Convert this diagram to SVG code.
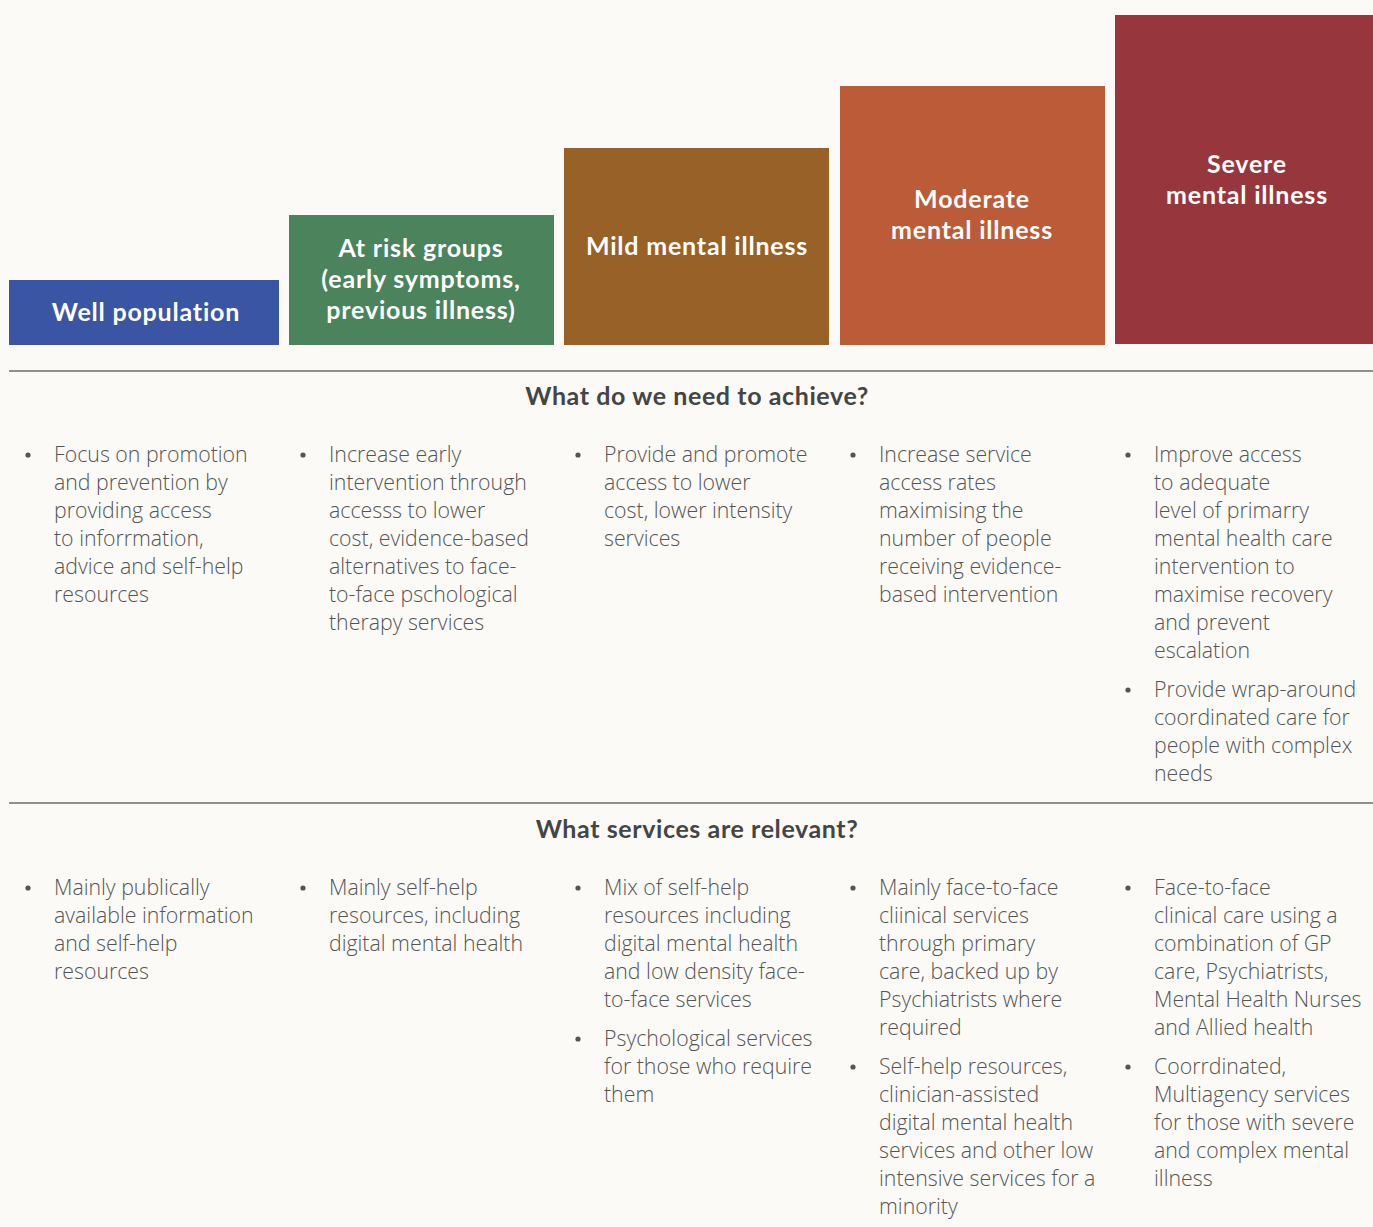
<svg xmlns="http://www.w3.org/2000/svg" width="1373" height="1227" viewBox="0 0 1373 1227">
<style>
.bg{fill:#fbfaf6}
.title{font-family:Lato,"Open Sans",sans-serif;font-weight:700;font-size:25px;letter-spacing:0.8px;fill:#ffffff;text-anchor:middle}
.head{font-family:Lato,"Open Sans",sans-serif;font-weight:700;font-size:25px;letter-spacing:0.6px;fill:#454545;text-anchor:middle}
.body{font-family:"Open Sans","Noto Sans",sans-serif;font-weight:300;font-size:21.3px;fill:#555555}
.dot{fill:#555555}
.rule{stroke:#6b6b6b;stroke-width:1.5}
</style>
<defs>
<circle id="b" r="2.6" class="dot"/>
</defs>
<rect class="bg" x="0" y="0" width="1373" height="1227"/>

<g id="node-well">
<rect x="9" y="280" width="270" height="65" fill="#3a55a4"/>
<text class="title" x="146" y="321">Well population</text>
</g>
<g id="node-atrisk">
<rect x="289" y="215" width="265" height="130" fill="#4a835c"/>
<text class="title" x="421" y="257">At risk groups</text>
<text class="title" x="421" y="288">(early symptoms,</text>
<text class="title" x="421" y="319">previous illness)</text>
</g>
<g id="node-mild">
<rect x="564" y="148" width="265" height="197" fill="#986128"/>
<text class="title" x="697" y="255">Mild mental illness</text>
</g>
<g id="node-moderate">
<rect x="840" y="86" width="265" height="259" fill="#bb5b37"/>
<text class="title" x="972" y="208">Moderate</text>
<text class="title" x="972" y="239">mental illness</text>
</g>
<g id="node-severe">
<rect x="1115" y="15" width="258" height="329" fill="#97373d"/>
<text class="title" x="1247" y="173">Severe</text>
<text class="title" x="1247" y="204">mental illness</text>
</g>

<g id="connectors">
<line class="rule" x1="9" y1="371" x2="1373" y2="371"/>
<line class="rule" x1="9" y1="803" x2="1373" y2="803"/>
</g>

<g id="section-achieve">
<text class="head" x="697" y="405">What do we need to achieve?</text>
<use href="#b" x="28" y="455"/>
<text class="body" x="54" y="462"><tspan x="54">Focus on promotion</tspan><tspan x="54" dy="28">and prevention by</tspan><tspan x="54" dy="28">providing access</tspan><tspan x="54" dy="28">to inforrmation,</tspan><tspan x="54" dy="28">advice and self-help</tspan><tspan x="54" dy="28">resources</tspan></text>
<use href="#b" x="303" y="455"/>
<text class="body" x="329" y="462"><tspan x="329">Increase early</tspan><tspan x="329" dy="28">intervention through</tspan><tspan x="329" dy="28">accesss to lower</tspan><tspan x="329" dy="28">cost, evidence-based</tspan><tspan x="329" dy="28">alternatives to face-</tspan><tspan x="329" dy="28">to-face pschological</tspan><tspan x="329" dy="28">therapy services</tspan></text>
<use href="#b" x="578" y="455"/>
<text class="body" x="604" y="462"><tspan x="604">Provide and promote</tspan><tspan x="604" dy="28">access to lower</tspan><tspan x="604" dy="28">cost, lower intensity</tspan><tspan x="604" dy="28">services</tspan></text>
<use href="#b" x="853" y="455"/>
<text class="body" x="879" y="462"><tspan x="879">Increase service</tspan><tspan x="879" dy="28">access rates</tspan><tspan x="879" dy="28">maximising the</tspan><tspan x="879" dy="28">number of people</tspan><tspan x="879" dy="28">receiving evidence-</tspan><tspan x="879" dy="28">based intervention</tspan></text>
<use href="#b" x="1128" y="455"/>
<text class="body" x="1154" y="462"><tspan x="1154">Improve access</tspan><tspan x="1154" dy="28">to adequate</tspan><tspan x="1154" dy="28">level of primarry</tspan><tspan x="1154" dy="28">mental health care</tspan><tspan x="1154" dy="28">intervention to</tspan><tspan x="1154" dy="28">maximise recovery</tspan><tspan x="1154" dy="28">and prevent</tspan><tspan x="1154" dy="28">escalation</tspan></text>
<use href="#b" x="1128" y="690"/>
<text class="body" x="1154" y="697"><tspan x="1154">Provide wrap-around</tspan><tspan x="1154" dy="28">coordinated care for</tspan><tspan x="1154" dy="28">people with complex</tspan><tspan x="1154" dy="28">needs</tspan></text>
</g>

<g id="section-services">
<text class="head" x="697" y="838">What services are relevant?</text>
<use href="#b" x="28" y="888"/>
<text class="body" x="54" y="895"><tspan x="54">Mainly publically</tspan><tspan x="54" dy="28">available information</tspan><tspan x="54" dy="28">and self-help</tspan><tspan x="54" dy="28">resources</tspan></text>
<use href="#b" x="303" y="888"/>
<text class="body" x="329" y="895"><tspan x="329">Mainly self-help</tspan><tspan x="329" dy="28">resources, including</tspan><tspan x="329" dy="28">digital mental health</tspan></text>
<use href="#b" x="578" y="888"/>
<text class="body" x="604" y="895"><tspan x="604">Mix of self-help</tspan><tspan x="604" dy="28">resources including</tspan><tspan x="604" dy="28">digital mental health</tspan><tspan x="604" dy="28">and low density face-</tspan><tspan x="604" dy="28">to-face services</tspan></text>
<use href="#b" x="578" y="1039"/>
<text class="body" x="604" y="1046"><tspan x="604">Psychological services</tspan><tspan x="604" dy="28">for those who require</tspan><tspan x="604" dy="28">them</tspan></text>
<use href="#b" x="853" y="888"/>
<text class="body" x="879" y="895"><tspan x="879">Mainly face-to-face</tspan><tspan x="879" dy="28">cliinical services</tspan><tspan x="879" dy="28">through primary</tspan><tspan x="879" dy="28">care, backed up by</tspan><tspan x="879" dy="28">Psychiatrists where</tspan><tspan x="879" dy="28">required</tspan></text>
<use href="#b" x="853" y="1067"/>
<text class="body" x="879" y="1074"><tspan x="879">Self-help resources,</tspan><tspan x="879" dy="28">clinician-assisted</tspan><tspan x="879" dy="28">digital mental health</tspan><tspan x="879" dy="28">services and other low</tspan><tspan x="879" dy="28">intensive services for a</tspan><tspan x="879" dy="28">minority</tspan></text>
<use href="#b" x="1128" y="888"/>
<text class="body" x="1154" y="895"><tspan x="1154">Face-to-face</tspan><tspan x="1154" dy="28">clinical care using a</tspan><tspan x="1154" dy="28">combination of GP</tspan><tspan x="1154" dy="28">care, Psychiatrists,</tspan><tspan x="1154" dy="28">Mental Health Nurses</tspan><tspan x="1154" dy="28">and Allied health</tspan></text>
<use href="#b" x="1128" y="1067"/>
<text class="body" x="1154" y="1074"><tspan x="1154">Coorrdinated,</tspan><tspan x="1154" dy="28">Multiagency services</tspan><tspan x="1154" dy="28">for those with severe</tspan><tspan x="1154" dy="28">and complex mental</tspan><tspan x="1154" dy="28">illness</tspan></text>
</g>
</svg>
